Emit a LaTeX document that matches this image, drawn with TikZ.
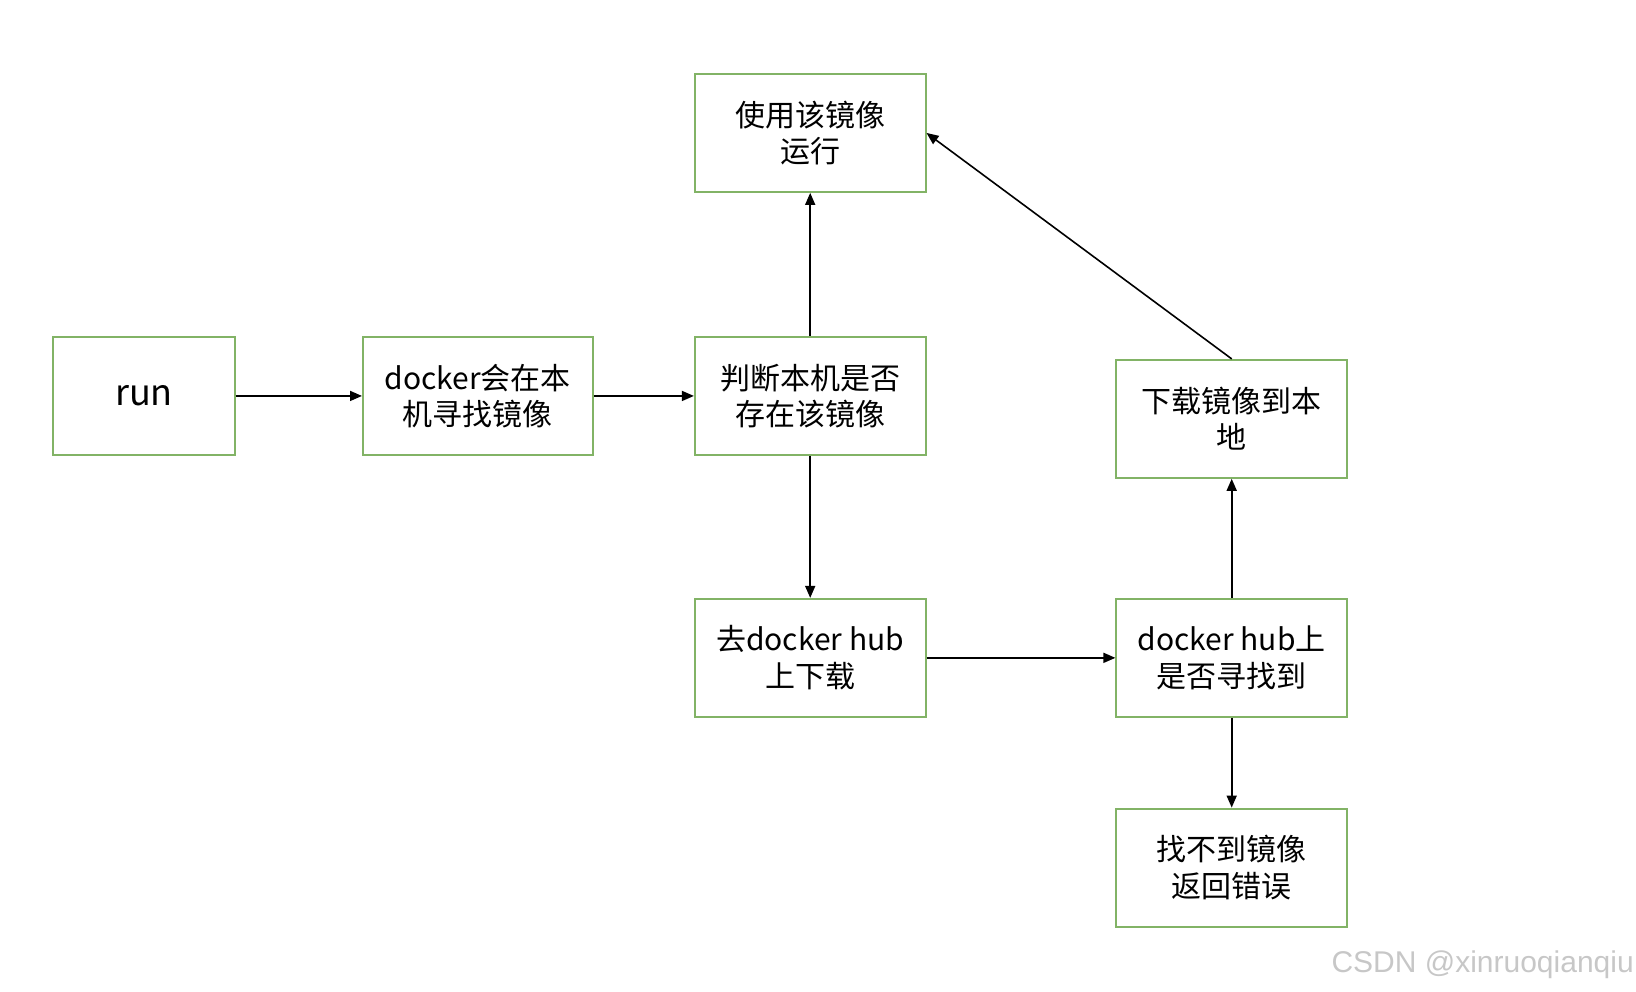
\documentclass[tikz,border=0pt]{standalone}
\usepackage{fontspec}
\setmainfont{Noto Sans CJK SC}
\newfontfamily\wmfont{Liberation Sans}
\usetikzlibrary{arrows.meta}
\definecolor{boxgreen}{HTML}{82B366}
\tikzset{
  box/.style={draw=boxgreen, line width=2pt, minimum width=230.6pt, minimum height=117.9pt,
    inner sep=0pt, align=center, font=\fontsize{30}{36.5}\selectfont, anchor=north west},
  conn/.style={draw=black, line width=1.6pt, -{Triangle[length=12pt,width=10pt]}}
}
\begin{document}
\begin{tikzpicture}[x=1pt,y=-1pt]
\useasboundingbox (0,0) rectangle (1636,992);
\node[box, minimum width=181.5pt, font=\fontsize{36}{40}\selectfont] (run) at (52.2,336) {run};
\node[box, minimum width=229.6pt] (find) at (362,336) {docker会在本\\机寻找镜像};
\node[box] (judge) at (693.9,336) {判断本机是否\\存在该镜像};
\node[box] (use) at (693.9,73) {使用该镜像\\运行};
\node[box] (go) at (693.9,597.9) {去docker hub\\上下载};
\node[box] (hub) at (1115.4,597.9) {docker hub上\\是否寻找到};
\node[box] (dl) at (1115.4,358.9) {下载镜像到本\\地};
\node[box] (err) at (1115.4,807.6) {找不到镜像\\返回错误};
\draw[conn] (run.east) -- (find.west);
\draw[conn] (find.east) -- (judge.west);
\draw[conn] (judge.north) -- (use.south);
\draw[conn] (judge.south) -- (go.north);
\draw[conn] (go.east) -- (hub.west);
\draw[conn] (hub.north) -- (dl.south);
\draw[conn] (hub.south) -- (err.north);
\draw[conn] (dl.north) -- (use.east);
\node[anchor=east, text=black!22, font=\wmfont\fontsize{30}{32}\selectfont, inner sep=0pt] (wm) at (1634,965) {CSDN @xinruoqianqiu};
\end{tikzpicture}
\end{document}
